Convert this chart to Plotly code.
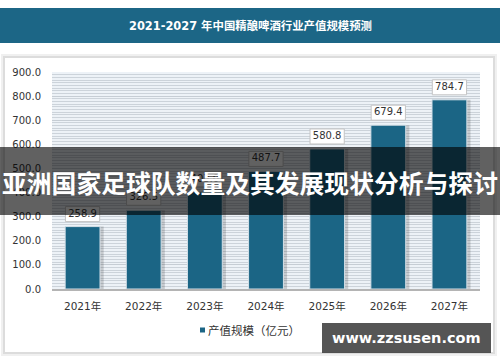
import plotly.graph_objects as go

# ---- data ----
years = ["2021年", "2022年", "2023年", "2024年", "2025年", "2026年", "2027年"]
values = [258.9, 326.5, 403.0, 487.7, 580.8, 679.4, 784.7]
y_ticks = [0, 100, 200, 300, 400, 500, 600, 700, 800, 900]
y_tick_text = ["0.0", "100.0", "200.0", "300.0", "400.0", "500.0", "600.0", "700.0", "800.0", "900.0"]
title_text = "2021-2027 年中国精酿啤酒行业产值规模预测"
banner_text = "亚洲国家足球队数量及其发展现状分析与探讨"
legend_text = "产值规模（亿元）"
watermark = "www.zzsusen.com"

# ---- geometry helpers ----
W, H = 500, 362
L, R, T, B = 52, 20, 72, 73
PW, PH = W - L - R, H - T - B
YMAX = 900
unit = YMAX / PH  # data units per pixel


def px(x):
    return (x - L) / PW


def py(y):
    return (H - B - y) / PH


BAR = "#1b6585"
NUM_FONT = "DejaVu Sans, Noto Sans CJK SC"
CJK_FONT = "Noto Sans CJK SC"

fig = go.Figure()

# bar shadow
fig.add_trace(go.Bar(x=years, y=values, width=0.57, offset=-0.285 + 0.06,
                     marker=dict(color="rgba(0,0,0,0.16)", line=dict(width=0)),
                     hoverinfo="skip", showlegend=False))
# main bars
fig.add_trace(go.Bar(x=years, y=values, width=0.57, offset=-0.285,
                     marker=dict(color=BAR, line=dict(color="#d5e0e8", width=1)),
                     name=legend_text, showlegend=False))
# label boxes (white with grey border)
box_base = [v + 5 * unit for v in values]
fig.add_trace(go.Bar(x=years, y=[15 * unit] * len(values), base=box_base, width=0.56, offset=-0.28,
                     marker=dict(color="white", line=dict(color="#c4c4c4", width=1)),
                     hoverinfo="skip", showlegend=False))
# label text
fig.add_trace(go.Scatter(x=years, y=[v + 12.5 * unit for v in values], mode="text",
                         text=[f"{v:.1f}" for v in values], textposition="middle center",
                         textfont=dict(family=NUM_FONT, size=10, color="#333333"),
                         hoverinfo="skip", showlegend=False))

shapes = []
# header band
shapes.append(dict(type="rect", xref="paper", yref="paper", x0=px(0), x1=px(W), y0=py(8), y1=py(43),
                   fillcolor="#1c6686", line=dict(width=0), layer="below"))
# panel shadow + panel
shapes.append(dict(type="rect", xref="paper", yref="paper", x0=px(1), x1=px(497), y0=py(54), y1=py(356),
                   fillcolor="#f0f0f0", line=dict(width=0), layer="below"))
shapes.append(dict(type="rect", xref="paper", yref="paper", x0=px(3), x1=px(495), y0=py(56), y1=py(354),
                   fillcolor="#dcdcdc", line=dict(width=0), layer="below"))
shapes.append(dict(type="rect", xref="paper", yref="paper", x0=px(5), x1=px(493), y0=py(58), y1=py(352),
                   fillcolor="white", line=dict(width=0), layer="below"))
# plot area background
shapes.append(dict(type="rect", xref="paper", yref="paper", x0=0, x1=1, y0=0, y1=1,
                   fillcolor="#edf2f7", line=dict(width=0), layer="below"))
# banner overlay
shapes.append(dict(type="rect", xref="paper", yref="paper", x0=px(0), x1=px(W), y0=py(147), y1=py(215),
                   fillcolor="rgba(0,0,0,0.62)", line=dict(width=0), layer="above"))
# legend marker
shapes.append(dict(type="rect", xref="paper", yref="paper", x0=px(200), x1=px(205), y0=py(332.5), y1=py(327.5),
                   fillcolor=BAR, line=dict(width=0), layer="above"))
# watermark box
shapes.append(dict(type="rect", xref="paper", yref="paper", x0=px(322), x1=px(491), y0=py(323), y1=py(353),
                   fillcolor="rgba(62,62,62,0.88)", line=dict(width=0), layer="above"))

annotations = [
    dict(xref="paper", yref="paper", x=px(250), y=py(25.5), text=f"<b>{title_text}</b>", showarrow=False,
         font=dict(family=NUM_FONT, size=11.4, color="white"), xanchor="center", yanchor="middle"),
    dict(xref="paper", yref="paper", x=px(250), y=py(182), text=f"<b>{banner_text}</b>", showarrow=False,
         font=dict(family=CJK_FONT, size=24.8, color="white"), xanchor="center", yanchor="middle"),
    dict(xref="paper", yref="paper", x=px(206), y=py(330), text=legend_text, showarrow=False,
         font=dict(family=CJK_FONT, size=11.5, color="#333333"), xanchor="left", yanchor="middle"),
    dict(xref="paper", yref="paper", x=px(406), y=py(338), text=f"<b>{watermark}</b>", showarrow=False,
         font=dict(family="DejaVu Sans", size=14.5, color="white"), xanchor="center", yanchor="middle"),
]

fig.update_layout(
    width=W, height=H,
    margin=dict(l=L, r=R, t=T, b=B, pad=0),
    paper_bgcolor="white", plot_bgcolor="rgba(0,0,0,0)",
    barmode="overlay", showlegend=False,
    shapes=shapes, annotations=annotations,
    font=dict(family=NUM_FONT, color="#333333"),
)
fig.update_xaxes(type="category", range=[-0.5, 6.5], showgrid=False, ticks="",
                 tickfont=dict(family=NUM_FONT, size=10.5, color="#333333"),
                 showline=True, linecolor="#b4b4b4", linewidth=2, ticklabelstandoff=6)
fig.update_yaxes(range=[0, YMAX], tickvals=y_ticks, ticktext=y_tick_text,
                 tickfont=dict(family=NUM_FONT, size=10, color="#333333"),
                 showgrid=True, gridcolor="#c6cdd4", gridwidth=1, zeroline=False,
                 minor=dict(dtick=100 / 9, showgrid=True, gridcolor="#ccd3da", gridwidth=1),
                 ticks="", ticklabelstandoff=10)

fig.write_html("out.html", config={"displayModeBar": False},
               post_script="document.body.style.margin='0';document.body.style.overflow='hidden';")
